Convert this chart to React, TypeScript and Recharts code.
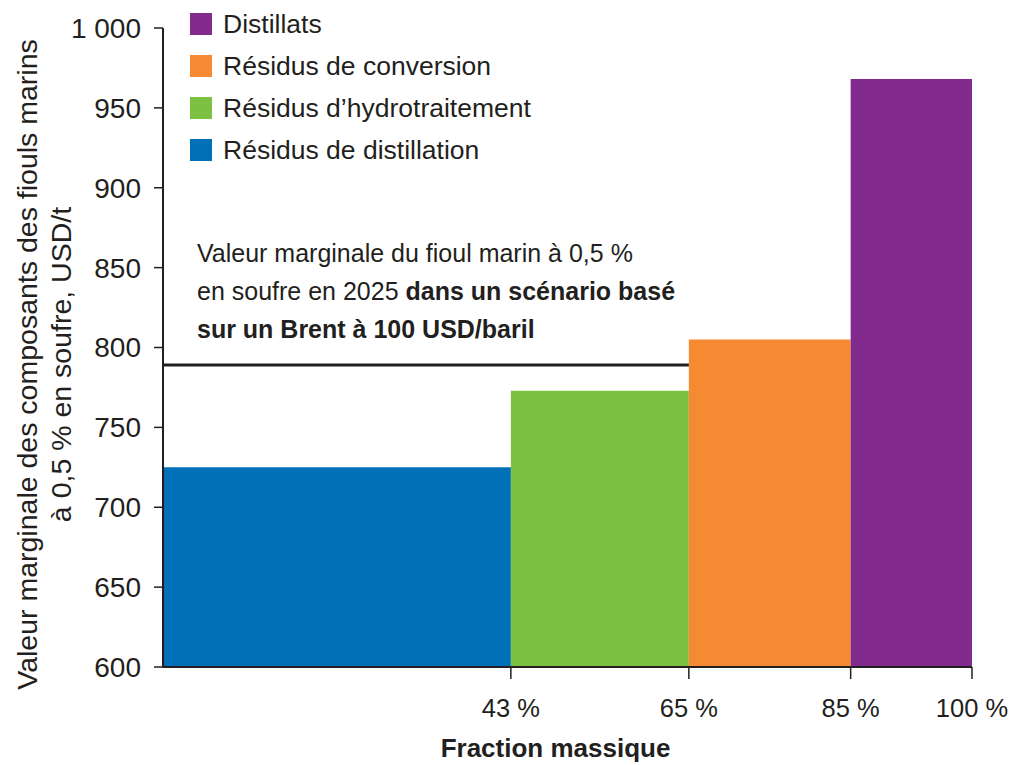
import { ComposedChart, Line, XAxis, YAxis, ReferenceArea, Label } from "recharts";

// fraction massique cumulée (bornes des barres), en %
const fractionBounds = [0, 43, 65, 85, 100];
const componentNames = [
  "Résidus de distillation",
  "Résidus d’hydrotraitement",
  "Résidus de conversion",
  "Distillats",
];
const componentValues = [725, 773, 805, 968];
const componentColors = ["#0070b8", "#7dc142", "#f58a33", "#832a8f"];

const xTicks = [43, 65, 85, 100];
const yTicks = [600, 650, 700, 750, 800, 850, 900, 950, 1000];

// valeur marginale du fioul marin à 0,5 % (ligne noire)
const marginalValue = 789;
const marginalEnd = 65;
const marginalLine = [
  { x: 0, y: marginalValue },
  { x: marginalEnd, y: marginalValue },
];

const FONT = "'Liberation Sans', Arial, Helvetica, sans-serif";
const INK = "#231f20";

const fmtThousands = (v: number) =>
  String(v).replace(/\B(?=(\d{3})+(?!\d))/g, " ");

export default function App() {
  const renderYLabel = ({ viewBox }: any) => {
    const cy = viewBox.y + viewBox.height / 2 + 17;
    return (
      <g fill={INK} fontFamily={FONT} fontSize={28.5}>
        <text x={37} y={cy} textAnchor="middle" transform={`rotate(-90, 37, ${cy})`}>
          Valeur marginale des composants des fiouls marins
        </text>
        <text x={71} y={cy} textAnchor="middle" transform={`rotate(-90, 71, ${cy})`}>
          à 0,5 % en soufre, USD/t
        </text>
      </g>
    );
  };

  const renderXLabel = ({ viewBox }: any) => (
    <text
      x={viewBox.x + viewBox.width / 2 - 12}
      y={viewBox.y + 90}
      textAnchor="middle"
      fill={INK}
      fontFamily={FONT}
      fontSize={26}
      fontWeight="bold"
    >
      Fraction massique
    </text>
  );

  const legendOrder = [3, 2, 1, 0];

  return (
    <div style={{ position: "absolute", left: 0, top: 0, width: 1014, height: 765, background: "#fff" }}>
      <ComposedChart
        width={1014}
        height={765}
        data={marginalLine}
        margin={{ top: 28, right: 42, bottom: 0, left: 0 }}
      >
        <XAxis
          dataKey="x"
          type="number"
          domain={[0, 100]}
          ticks={xTicks}
          tickFormatter={(v) => `${v} %`}
          height={98}
          tickSize={12}
          tickMargin={20}
          tick={{ fill: INK, fontSize: 25.5, fontFamily: FONT }}
          axisLine={{ stroke: INK, strokeWidth: 2 }}
          tickLine={{ stroke: INK, strokeWidth: 1.5 }}
        >
          <Label content={renderXLabel} />
        </XAxis>
        <YAxis
          type="number"
          domain={[600, 1000]}
          ticks={yTicks}
          tickFormatter={fmtThousands}
          width={163}
          tickSize={9}
          tickMargin={13}
          tick={{ fill: INK, fontSize: 28, fontFamily: FONT }}
          axisLine={{ stroke: INK, strokeWidth: 2 }}
          tickLine={{ stroke: INK, strokeWidth: 1.5 }}
        >
          <Label content={renderYLabel} />
        </YAxis>
        {componentValues.map((v, i) => (
          <ReferenceArea
            key={componentNames[i]}
            x1={fractionBounds[i]}
            x2={fractionBounds[i + 1]}
            y1={600}
            y2={v}
            fill={componentColors[i]}
            fillOpacity={1}
            stroke="none"
          />
        ))}
        <Line
          dataKey="y"
          stroke={INK}
          strokeWidth={3}
          dot={false}
          activeDot={false}
          isAnimationActive={false}
        />
      </ComposedChart>

      <div style={{ position: "absolute", left: 190, top: 3, fontFamily: FONT, fontSize: 26.5, color: INK }}>
        {legendOrder.map((i) => (
          <div key={componentNames[i]} style={{ display: "flex", alignItems: "center", height: 42 }}>
            <span style={{ width: 22, height: 22, background: componentColors[i], marginRight: 11 }} />
            <span>{componentNames[i]}</span>
          </div>
        ))}
      </div>

      <div
        style={{
          position: "absolute",
          left: 197,
          top: 234,
          fontFamily: FONT,
          fontSize: 25,
          lineHeight: "38px",
          color: INK,
          whiteSpace: "nowrap",
        }}
      >
        <div>Valeur marginale du fioul marin à 0,5 %</div>
        <div>
          en soufre en 2025 <b>dans un scénario basé</b>
        </div>
        <div>
          <b>sur un Brent à 100 USD/baril</b>
        </div>
      </div>
    </div>
  );
}
